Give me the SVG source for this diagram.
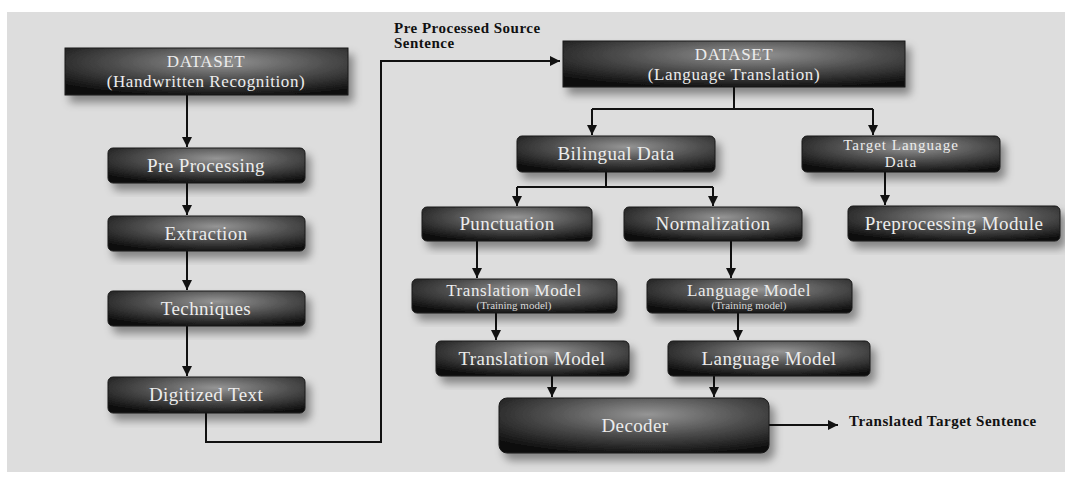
<svg xmlns="http://www.w3.org/2000/svg" width="1065" height="477" viewBox="0 0 1065 477">
<style>
.box{fill:url(#g);stroke:#1a1a1a;stroke-width:1;filter:url(#sh)}
.t{font-family:"Liberation Serif","Times New Roman",serif;font-size:19px;fill:#ececec;text-anchor:middle;letter-spacing:0.4px}
.t2{font-family:"Liberation Serif","Times New Roman",serif;font-size:17px;fill:#ececec;text-anchor:middle;letter-spacing:0.6px}
.t3{font-family:"Liberation Serif","Times New Roman",serif;font-size:15px;fill:#ececec;text-anchor:middle;letter-spacing:1px}
.s{font-family:"Liberation Serif","Times New Roman",serif;font-size:11px;fill:#d8d8d8;text-anchor:middle}
.lbl{font-family:"Liberation Serif","Times New Roman",serif;font-size:15px;font-weight:bold;fill:#111;letter-spacing:0.5px}
.c{fill:none;stroke:#111;stroke-width:2}
</style>
<defs>
<radialGradient id="g" cx="0.55" cy="0.3" r="0.75">
<stop offset="0" stop-color="#959595"/>
<stop offset="0.5" stop-color="#4e4e4e"/>
<stop offset="1" stop-color="#0c0c0c"/>
</radialGradient>
<filter id="sh" x="-10%" y="-20%" width="130%" height="160%">
<feDropShadow dx="5" dy="7" stdDeviation="4" flood-color="#000" flood-opacity="0.4"/>
</filter>
<marker id="a" viewBox="0 0 10 10" refX="10" refY="5" markerWidth="5" markerHeight="5" orient="auto" markerUnits="strokeWidth">
<path d="M0,0 L10,5 L0,10 z" fill="#111"/>
</marker>
</defs>
<rect width="1065" height="477" fill="#ffffff"/>
<rect x="7" y="12" width="1058" height="460" fill="#dddddd"/>

<g id="connectors">
<path class="c" d="M187,95 V147" marker-end="url(#a)"/>
<path class="c" d="M187,183 V215" marker-end="url(#a)"/>
<path class="c" d="M187,251 V290" marker-end="url(#a)"/>
<path class="c" d="M187,326 V376" marker-end="url(#a)"/>
<path class="c" d="M206,413 V442 H381 V61 H560" marker-end="url(#a)"/>
<path class="c" d="M734,87 V109"/>
<path class="c" d="M592,109 H873"/>
<path class="c" d="M592,109 V135" marker-end="url(#a)"/>
<path class="c" d="M873,109 V135" marker-end="url(#a)"/>
<path class="c" d="M606,172 V187"/>
<path class="c" d="M517,187 H713"/>
<path class="c" d="M517,187 V206" marker-end="url(#a)"/>
<path class="c" d="M713,187 V206" marker-end="url(#a)"/>
<path class="c" d="M885,172 V205" marker-end="url(#a)"/>
<path class="c" d="M477,241 V278" marker-end="url(#a)"/>
<path class="c" d="M731,241 V278" marker-end="url(#a)"/>
<path class="c" d="M496,313 V340" marker-end="url(#a)"/>
<path class="c" d="M738,313 V340" marker-end="url(#a)"/>
<path class="c" d="M552,376 V397" marker-end="url(#a)"/>
<path class="c" d="M714,376 V397" marker-end="url(#a)"/>
<path class="c" d="M769,425 H838" marker-end="url(#a)"/>
<text class="lbl" x="394" y="33">Pre Processed Source</text>
<text class="lbl" x="394" y="48">Sentence</text>
<text class="lbl" x="849" y="426">Translated Target Sentence</text>
</g>

<g id="n-dataset-hw">
<rect class="box" x="65" y="48" width="283" height="47"/>
<text class="t2" x="206" y="67">DATASET</text>
<text class="t2" x="206" y="87">(Handwritten Recognition)</text>
</g>
<g id="n-preprocessing">
<rect class="box" x="108" y="148" width="197" height="35" rx="5"/>
<text class="t" x="206" y="172">Pre Processing</text>
</g>
<g id="n-extraction">
<rect class="box" x="108" y="216" width="197" height="35" rx="5"/>
<text class="t" x="206" y="240">Extraction</text>
</g>
<g id="n-techniques">
<rect class="box" x="108" y="291" width="197" height="35" rx="5"/>
<text class="t" x="206" y="315">Techniques</text>
</g>
<g id="n-digitized">
<rect class="box" x="108" y="377" width="197" height="36" rx="5"/>
<text class="t" x="206" y="401">Digitized Text</text>
</g>

<g id="n-dataset-lt">
<rect class="box" x="563" y="41" width="342" height="46"/>
<text class="t2" x="734" y="60">DATASET</text>
<text class="t2" x="734" y="80">(Language Translation)</text>
</g>
<g id="n-bilingual">
<rect class="box" x="517" y="136" width="198" height="36" rx="5"/>
<text class="t" x="616" y="160">Bilingual Data</text>
</g>
<g id="n-target">
<rect class="box" x="802" y="136" width="198" height="36" rx="5"/>
<text class="t3" x="901" y="150">Target Language</text>
<text class="t3" x="901" y="167">Data</text>
</g>
<g id="n-punctuation">
<rect class="box" x="422" y="207" width="170" height="34" rx="5"/>
<text class="t" x="507" y="230">Punctuation</text>
</g>
<g id="n-normalization">
<rect class="box" x="624" y="207" width="178" height="34" rx="5"/>
<text class="t" x="713" y="230">Normalization</text>
</g>
<g id="n-premodule">
<rect class="box" x="848" y="206" width="212" height="35" rx="5"/>
<text class="t" x="954" y="230">Preprocessing Module</text>
</g>
<g id="n-tm-train">
<rect class="box" x="412" y="279" width="205" height="34" rx="5"/>
<text class="t2" x="514" y="296">Translation Model</text>
<text class="s" x="514" y="309">(Training model)</text>
</g>
<g id="n-lm-train">
<rect class="box" x="647" y="279" width="205" height="34" rx="5"/>
<text class="t2" x="749" y="296">Language Model</text>
<text class="s" x="749" y="309">(Training model)</text>
</g>
<g id="n-tm">
<rect class="box" x="436" y="341" width="193" height="35" rx="5"/>
<text class="t" x="532" y="365">Translation Model</text>
</g>
<g id="n-lm">
<rect class="box" x="668" y="341" width="202" height="35" rx="5"/>
<text class="t" x="769" y="365">Language Model</text>
</g>
<g id="n-decoder">
<rect class="box" x="499" y="398" width="270" height="55" rx="8"/>
<text class="t" x="635" y="432">Decoder</text>
</g>
</svg>
